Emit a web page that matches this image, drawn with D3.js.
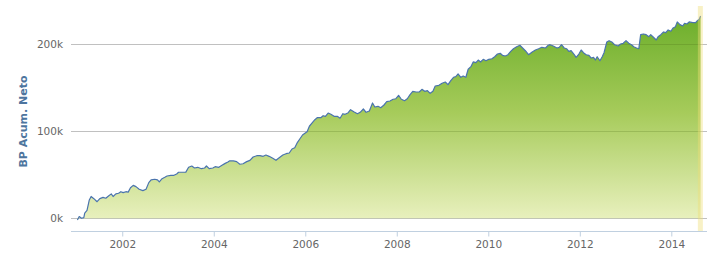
<!DOCTYPE html>
<html>
<head>
<meta charset="utf-8">
<script src="https://cdn.jsdelivr.net/npm/d3@7/dist/d3.min.js"></script>
<style>
html,body{margin:0;padding:0;background:#fff;}
svg{display:block;}
</style>
</head>
<body>
<svg id="chart" width="707" height="254"></svg>
<script>
// decimal years of each sample
const years = [2001.02,2001.06,2001.11,2001.16,2001.18,2001.23,2001.28,2001.32,2001.38,2001.45,2001.51,2001.58,2001.64,2001.70,2001.76,2001.80,2001.86,2001.92,2001.97,
2002.02,2002.08,2002.13,2002.18,2002.24,2002.30,2002.37,2002.45,2002.52,2002.58,2002.63,2002.71,2002.77,2002.81,2002.87,2002.93,2002.98,
2003.06,2003.13,2003.19,2003.23,2003.32,2003.39,2003.45,2003.52,2003.58,2003.65,2003.73,2003.80,2003.84,2003.90,2003.98,
2004.03,2004.11,2004.18,2004.25,2004.31,2004.35,2004.43,2004.50,2004.57,2004.64,2004.72,2004.79,2004.86,2004.94,
2005.01,2005.08,2005.14,2005.21,2005.29,2005.36,2005.43,2005.51,2005.58,2005.65,2005.71,2005.77,2005.83,2005.88,2005.94,
2006.00,2006.04,2006.09,2006.15,2006.21,2006.26,2006.34,2006.39,2006.44,2006.50,2006.56,2006.63,2006.70,2006.76,2006.82,2006.87,2006.93,2006.99,
2007.06,2007.14,2007.20,2007.27,2007.33,2007.40,2007.47,2007.52,2007.59,2007.65,2007.72,2007.78,2007.85,2007.92,2007.98,
2008.04,2008.10,2008.17,2008.23,2008.29,2008.35,2008.42,2008.49,2008.55,2008.61,2008.67,2008.73,2008.79,2008.84,2008.92,2008.99,
2009.06,2009.12,2009.18,2009.24,2009.29,2009.34,2009.40,2009.45,2009.51,2009.56,2009.62,2009.67,2009.73,2009.78,2009.83,2009.89,2009.95,
2010.01,2010.08,2010.14,2010.20,2010.26,2010.31,2010.37,2010.43,2010.49,2010.55,2010.62,2010.69,2010.75,2010.81,2010.88,2010.96,
2011.03,2011.10,2011.17,2011.25,2011.31,2011.35,2011.42,2011.50,2011.55,2011.60,2011.66,2011.71,2011.76,2011.81,2011.87,2011.92,2011.98,
2012.03,2012.08,2012.14,2012.20,2012.25,2012.30,2012.34,2012.38,2012.44,2012.49,2012.53,2012.59,2012.64,2012.70,2012.76,2012.84,2012.89,2012.95,
2013.01,2013.07,2013.13,2013.18,2013.24,2013.29,2013.33,2013.39,2013.45,2013.51,2013.55,2013.61,2013.67,2013.71,2013.77,2013.83,2013.88,2013.93,2013.99,
2014.04,2014.09,2014.13,2014.19,2014.25,2014.29,2014.34,2014.39,2014.47,2014.53,2014.57,2014.61,2014.64];

// cumulative net BP, thousands
const values = [-2,2,0,0.7,6,9,21,25,22.5,19,22.5,24,23,25.6,28,25,28,28.7,30.5,
29.4,30.5,30,35,37.8,36.3,33.3,31.7,33.3,40.9,44,44.8,44,41.7,45.4,47,48.5,
49.3,49.3,50.8,52.8,52.8,53,58.5,60,57.7,58.5,56.9,57.7,60,56.9,57.7,
59.2,58.5,60.8,63,64.6,66,65.8,65,62,62.6,65,66.5,70.3,71.8,
71.8,71.1,72.6,71.1,68.8,66.5,69.5,72.6,74.1,74.9,79.5,81,87.2,91,95.6,
97.9,99.4,105.6,109.4,113.1,115.4,115.4,117.7,117,120.8,119.3,117,117,114.8,120,119.3,120.8,124.6,
122.3,120,121.6,125.4,121.6,123.1,132.3,127.7,128.5,126.9,130,133.8,134.6,136.6,137.2,
141.1,136.6,134.9,137.2,141.8,145.7,144.9,144.9,148,145.7,146.4,143.4,145.7,151.8,152.6,154.9,
156.4,153.3,157.9,161.8,162.5,165.6,161.8,163.3,161.8,171,174,179.4,178.6,181.6,179.4,182.4,180.8,
182.4,183.1,185.4,188.5,189.3,187,186.2,187.7,191.6,194.6,196.9,198.5,195.4,192.3,187.7,190.8,
193.1,194.6,196.2,195.4,198.5,199.2,197.7,195.4,196.2,199.2,195.4,194.6,191.6,192.3,188.5,184.7,188.5,
193.1,190,187.7,187,183.9,184.7,181.6,185.4,180.8,185.4,190,202.3,203.8,202.3,199.2,197.7,200,200.8,
203.8,200.8,199.2,196.9,195.4,194.6,210.7,211.5,210.7,208.4,210.7,207.7,204.6,208.4,210.7,213.8,213,216.1,214.6,
218.4,219.9,225.3,222.2,220.7,223.8,223,225.3,224.5,224.5,226.8,228.4,232];

const xTicks = [2002,2004,2006,2008,2010,2012,2014];
const yTicks = [0,100,200];
const yTickLabels = ["0k","100k","200k"];
const xDomain = [2000.88, 2014.78];
const yDomain = [-14.6, 243.6];
const band = [2014.58, 2014.69];
const yTitle = "BP Acum. Neto";

(function(){
const data = years.map((yr,i)=>({x:yr, v:values[i]}));

const svg = d3.select("#chart");
const pL = 71, pR = 707, pT = 6, pB = 231;

const x = d3.scaleLinear().domain(xDomain).range([pL, pR]);
const y = d3.scaleLinear().domain(yDomain).range([pB, pT]);

const defs = svg.append("defs");
const grad = defs.append("linearGradient")
  .attr("id","areaGrad").attr("gradientUnits","userSpaceOnUse")
  .attr("x1",0).attr("x2",0).attr("y1",pT).attr("y2",y(0));
grad.append("stop").attr("offset","0%").attr("stop-color","#66ab26");
grad.append("stop").attr("offset","50%").attr("stop-color","#a6cb5a");
grad.append("stop").attr("offset","100%").attr("stop-color","#e8f0bd");

const area = d3.area().x(d=>x(d.x)).y0(y(0)).y1(d=>y(d.v));
const line = d3.line().x(d=>x(d.x)).y(d=>y(d.v));

defs.append("clipPath").attr("id","areaClip").append("path").attr("d", area(data));

// gridlines under area
svg.append("g").selectAll("line").data(yTicks).join("line")
  .attr("x1",pL).attr("x2",pR)
  .attr("y1",d=>Math.round(y(d))+0.5).attr("y2",d=>Math.round(y(d))+0.5)
  .attr("stroke","#c0c0c0").attr("stroke-width",1);

// area
svg.append("path").attr("d", area(data)).attr("fill","url(#areaGrad)");

// gridlines showing through area
svg.append("g").attr("clip-path","url(#areaClip)")
  .selectAll("line").data(yTicks).join("line")
  .attr("x1",pL).attr("x2",pR)
  .attr("y1",d=>Math.round(y(d))+0.5).attr("y2",d=>Math.round(y(d))+0.5)
  .attr("stroke","rgba(70,100,20,0.22)").attr("stroke-width",1);

// line
svg.append("path").attr("d", line(data))
  .attr("fill","none").attr("stroke","#4a74ad").attr("stroke-width",1.2)
  .attr("stroke-linejoin","round");

// plot band
svg.append("rect")
  .attr("x", x(band[0])).attr("width", x(band[1]) - x(band[0]))
  .attr("y", pT).attr("height", pB - pT)
  .attr("fill","rgba(238,222,120,0.42)");

// x axis
const xAxis = d3.axisBottom(x).tickValues(xTicks).tickFormat(d3.format("d")).tickSize(5).tickPadding(4);
const gx = svg.append("g").attr("transform",`translate(0,${pB+0.5})`).call(xAxis);
gx.select(".domain").attr("stroke","#c0d0e0").attr("d",`M${pL},0H${pR}`);
gx.selectAll(".tick line").attr("stroke","#c0d0e0");
gx.selectAll(".tick text").attr("fill","#666").attr("font-family","DejaVu Sans, sans-serif").attr("font-size","10.5px");

// y axis labels
const yAxis = d3.axisLeft(y).tickValues(yTicks).tickFormat((d,i)=>yTickLabels[i]).tickSize(0).tickPadding(8);
const gy = svg.append("g").attr("transform",`translate(${pL},0)`).call(yAxis);
gy.select(".domain").remove();
gy.selectAll(".tick text").attr("fill","#666").attr("font-family","DejaVu Sans, sans-serif").attr("font-size","10.5px");

// y title
svg.append("text")
  .attr("transform",`translate(27,${(pT+pB)/2 + 3}) rotate(-90)`)
  .attr("text-anchor","middle")
  .attr("fill","#4d759e").attr("font-family","DejaVu Sans, sans-serif")
  .attr("font-weight","bold").attr("font-size","11px")
  .text(yTitle);
})();
</script>
</body>
</html>
